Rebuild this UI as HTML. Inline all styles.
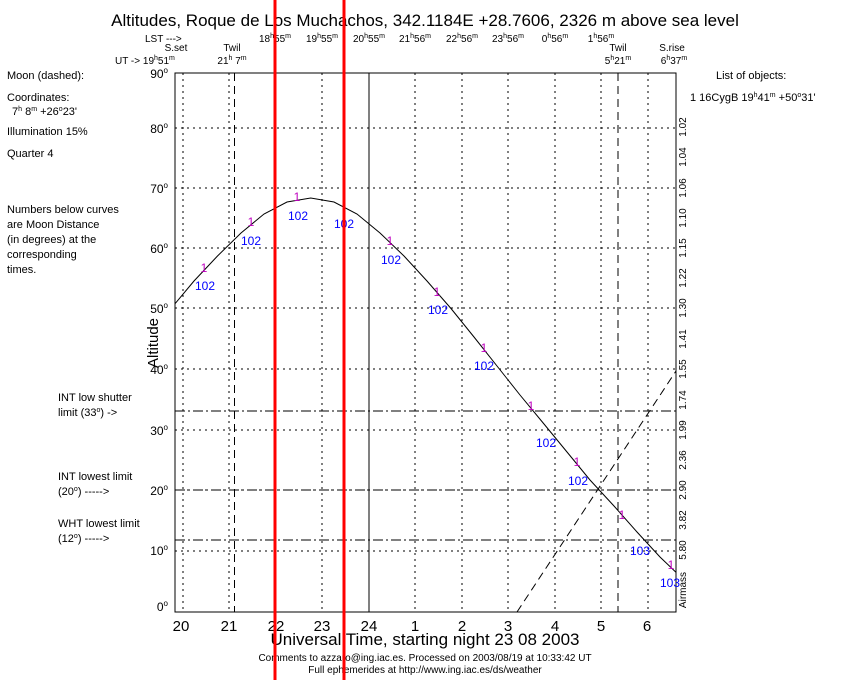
<!DOCTYPE html>
<html><head><meta charset="utf-8"><style>
html,body{margin:0;padding:0;background:#fff;}
svg{display:block;font-family:"Liberation Sans",sans-serif;}
</style></head><body>
<svg width="850" height="680" xmlns="http://www.w3.org/2000/svg">
<defs><clipPath id="pc"><rect x="175" y="73" width="501" height="539"/></clipPath></defs>
<rect width="850" height="680" fill="#fff"/>
<text x="425" y="26" font-size="17" text-anchor="middle">Altitudes, Roque de Los Muchachos, 342.1184E +28.7606, 2326 m above sea level</text>
<g font-size="10">
<text x="145" y="42">LST ---&gt;</text>
<text x="115" y="64">UT -&gt; 19<tspan font-size="7" dy="-4">h</tspan><tspan dy="4">51</tspan><tspan font-size="7" dy="-4">m</tspan></text>
<text x="176" y="51" text-anchor="middle">S.set</text>
<text x="232" y="51" text-anchor="middle">Twil</text>
<text x="232" y="64" text-anchor="middle">21<tspan font-size="7" dy="-4">h</tspan><tspan dy="4"> 7</tspan><tspan font-size="7" dy="-4">m</tspan></text>
<text x="618" y="51" text-anchor="middle">Twil</text>
<text x="618" y="64" text-anchor="middle">5<tspan font-size="7" dy="-4">h</tspan><tspan dy="4">21</tspan><tspan font-size="7" dy="-4">m</tspan></text>
<text x="672" y="51" text-anchor="middle">S.rise</text>
<text x="674" y="64" text-anchor="middle">6<tspan font-size="7" dy="-4">h</tspan><tspan dy="4">37</tspan><tspan font-size="7" dy="-4">m</tspan></text>
</g>
<g font-size="10" text-anchor="middle">
<text x="275" y="42">18<tspan font-size="7" dy="-4">h</tspan><tspan dy="4">55</tspan><tspan font-size="7" dy="-4">m</tspan></text>
<text x="322" y="42">19<tspan font-size="7" dy="-4">h</tspan><tspan dy="4">55</tspan><tspan font-size="7" dy="-4">m</tspan></text>
<text x="369" y="42">20<tspan font-size="7" dy="-4">h</tspan><tspan dy="4">55</tspan><tspan font-size="7" dy="-4">m</tspan></text>
<text x="415" y="42">21<tspan font-size="7" dy="-4">h</tspan><tspan dy="4">56</tspan><tspan font-size="7" dy="-4">m</tspan></text>
<text x="462" y="42">22<tspan font-size="7" dy="-4">h</tspan><tspan dy="4">56</tspan><tspan font-size="7" dy="-4">m</tspan></text>
<text x="508" y="42">23<tspan font-size="7" dy="-4">h</tspan><tspan dy="4">56</tspan><tspan font-size="7" dy="-4">m</tspan></text>
<text x="555" y="42">0<tspan font-size="7" dy="-4">h</tspan><tspan dy="4">56</tspan><tspan font-size="7" dy="-4">m</tspan></text>
<text x="601" y="42">1<tspan font-size="7" dy="-4">h</tspan><tspan dy="4">56</tspan><tspan font-size="7" dy="-4">m</tspan></text>
</g>
<g stroke="#000" stroke-width="1" stroke-dasharray="2,4" fill="none">
<line x1="175" y1="551" x2="676" y2="551"/><line x1="175" y1="490" x2="676" y2="490"/>
<line x1="175" y1="430" x2="676" y2="430"/><line x1="175" y1="369" x2="676" y2="369"/>
<line x1="175" y1="308" x2="676" y2="308"/><line x1="175" y1="248" x2="676" y2="248"/>
<line x1="175" y1="188" x2="676" y2="188"/><line x1="175" y1="128" x2="676" y2="128"/>
<line x1="183" y1="73" x2="183" y2="612"/><line x1="229" y1="73" x2="229" y2="612"/>
<line x1="276" y1="73" x2="276" y2="612"/><line x1="322" y1="73" x2="322" y2="612"/>
<line x1="415" y1="73" x2="415" y2="612"/><line x1="462" y1="73" x2="462" y2="612"/>
<line x1="508" y1="73" x2="508" y2="612"/><line x1="555" y1="73" x2="555" y2="612"/>
<line x1="601" y1="73" x2="601" y2="612"/><line x1="648" y1="73" x2="648" y2="612"/>
</g>
<g stroke="#000" fill="none">
<line x1="234.5" y1="73" x2="234.5" y2="612" stroke-dasharray="8,5"/>
<line x1="618" y1="73" x2="618" y2="612" stroke-dasharray="8,5"/>
<line x1="369" y1="73" x2="369" y2="612"/>
<line x1="175" y1="411" x2="676" y2="411" stroke-dasharray="10,3,2,3"/>
<line x1="175" y1="490" x2="676" y2="490" stroke-dasharray="10,3,2,3"/>
<line x1="175" y1="540" x2="676" y2="540" stroke-dasharray="10,3,2,3"/>
<line x1="517" y1="612" x2="676" y2="371" stroke-dasharray="8,5"/>
<rect x="175" y="73" width="501" height="539"/>
<polyline clip-path="url(#pc)" points="171,308.5 194,281 217.5,256 241,233 264,214 287,202 310.7,198 334,202 357,214 380,233 404,256 427,281 451,308.5 474,337 497,366 520,395 544,424 567,452 590,480 614,506 637,532 660,557 684,580"/>
</g>
<g font-size="12" fill="#c000c0" text-anchor="middle">
<text x="204" y="272">1</text><text x="251" y="226">1</text><text x="297" y="201">1</text>
<text x="390" y="245">1</text><text x="437" y="296">1</text><text x="484" y="352">1</text>
<text x="531" y="410">1</text><text x="577" y="466">1</text><text x="622" y="519">1</text><text x="671" y="569">1</text>
</g>
<g font-size="12" fill="#0000ff" text-anchor="middle">
<text x="205" y="290">102</text><text x="251" y="245">102</text><text x="298" y="220">102</text>
<text x="344" y="228">102</text><text x="391" y="264">102</text><text x="438" y="314">102</text>
<text x="484" y="370">102</text><text x="546" y="447">102</text><text x="578" y="485">102</text>
<text x="640" y="555">103</text><text x="670" y="587">103</text>
</g>
<g font-size="12" text-anchor="end">
<text x="168" y="78">90<tspan font-size="8" dy="-5">o</tspan></text>
<text x="168" y="133">80<tspan font-size="8" dy="-5">o</tspan></text>
<text x="168" y="193">70<tspan font-size="8" dy="-5">o</tspan></text>
<text x="168" y="253">60<tspan font-size="8" dy="-5">o</tspan></text>
<text x="168" y="313">50<tspan font-size="8" dy="-5">o</tspan></text>
<text x="168" y="374">40<tspan font-size="8" dy="-5">o</tspan></text>
<text x="168" y="435">30<tspan font-size="8" dy="-5">o</tspan></text>
<text x="168" y="495">20<tspan font-size="8" dy="-5">o</tspan></text>
<text x="168" y="555">10<tspan font-size="8" dy="-5">o</tspan></text>
<text x="168" y="611">0<tspan font-size="8" dy="-5">o</tspan></text>
</g>
<text x="0" y="0" font-size="15" transform="translate(158,343) rotate(-90)" text-anchor="middle">Altitude</text>
<g font-size="15" text-anchor="middle">
<text x="181" y="631">20</text><text x="229" y="631">21</text><text x="276" y="631">22</text>
<text x="322" y="631">23</text><text x="369" y="631">24</text><text x="415" y="631">1</text>
<text x="462" y="631">2</text><text x="508" y="631">3</text><text x="555" y="631">4</text>
<text x="601" y="631">5</text><text x="647" y="631">6</text>
</g>
<text x="425" y="645" font-size="17" text-anchor="middle">Universal Time, starting night 23 08 2003</text>
<text x="425" y="661" font-size="10" text-anchor="middle">Comments to azzaro@ing.iac.es. Processed on 2003/08/19 at 10:33:42 UT</text>
<text x="425" y="673" font-size="10" text-anchor="middle">Full ephemerides at http://www.ing.iac.es/ds/weather</text>
<g font-size="10" text-anchor="middle">
<text transform="translate(686,127) rotate(-90)">1.02</text>
<text transform="translate(686,157) rotate(-90)">1.04</text>
<text transform="translate(686,188) rotate(-90)">1.06</text>
<text transform="translate(686,218) rotate(-90)">1.10</text>
<text transform="translate(686,248) rotate(-90)">1.15</text>
<text transform="translate(686,278) rotate(-90)">1.22</text>
<text transform="translate(686,308) rotate(-90)">1.30</text>
<text transform="translate(686,339) rotate(-90)">1.41</text>
<text transform="translate(686,369) rotate(-90)">1.55</text>
<text transform="translate(686,400) rotate(-90)">1.74</text>
<text transform="translate(686,430) rotate(-90)">1.99</text>
<text transform="translate(686,460) rotate(-90)">2.36</text>
<text transform="translate(686,490) rotate(-90)">2.90</text>
<text transform="translate(686,520) rotate(-90)">3.82</text>
<text transform="translate(686,550) rotate(-90)">5.80</text>
<text transform="translate(686,590) rotate(-90)">Airmass</text>
</g>
<g font-size="11">
<text x="7" y="79">Moon (dashed):</text>
<text x="7" y="101">Coordinates:</text>
<text x="12" y="115">7<tspan font-size="7" dy="-4">h</tspan><tspan dy="4"> 8</tspan><tspan font-size="7" dy="-4">m</tspan><tspan dy="4">  +26</tspan><tspan font-size="7" dy="-4">o</tspan><tspan dy="4">23'</tspan></text>
<text x="7" y="135">Illumination  15%</text>
<text x="7" y="157">Quarter      4</text>
<text x="7" y="213">Numbers below curves</text>
<text x="7" y="228">are Moon Distance</text>
<text x="7" y="243">(in degrees) at the</text>
<text x="7" y="258">corresponding</text>
<text x="7" y="273">times.</text>
<text x="58" y="401">INT low shutter</text>
<text x="58" y="416">limit (33<tspan font-size="7" dy="-4">o</tspan><tspan dy="4">) -&gt;</tspan></text>
<text x="58" y="480">INT lowest limit</text>
<text x="58" y="495">(20<tspan font-size="7" dy="-4">o</tspan><tspan dy="4">) -----&gt;</tspan></text>
<text x="58" y="527">WHT lowest limit</text>
<text x="58" y="542">(12<tspan font-size="7" dy="-4">o</tspan><tspan dy="4">) -----&gt;</tspan></text>
<text x="716" y="79">List of objects:</text>
<text x="690" y="101">1  16CygB  19<tspan font-size="7" dy="-4">h</tspan><tspan dy="4">41</tspan><tspan font-size="7" dy="-4">m</tspan><tspan dy="4">  +50</tspan><tspan font-size="7" dy="-4">o</tspan><tspan dy="4">31'</tspan></text>
</g>
<rect x="273.5" y="0" width="3" height="680" fill="#ff0000"/>
<rect x="342.5" y="0" width="3" height="680" fill="#ff0000"/>
</svg>
</body></html>
